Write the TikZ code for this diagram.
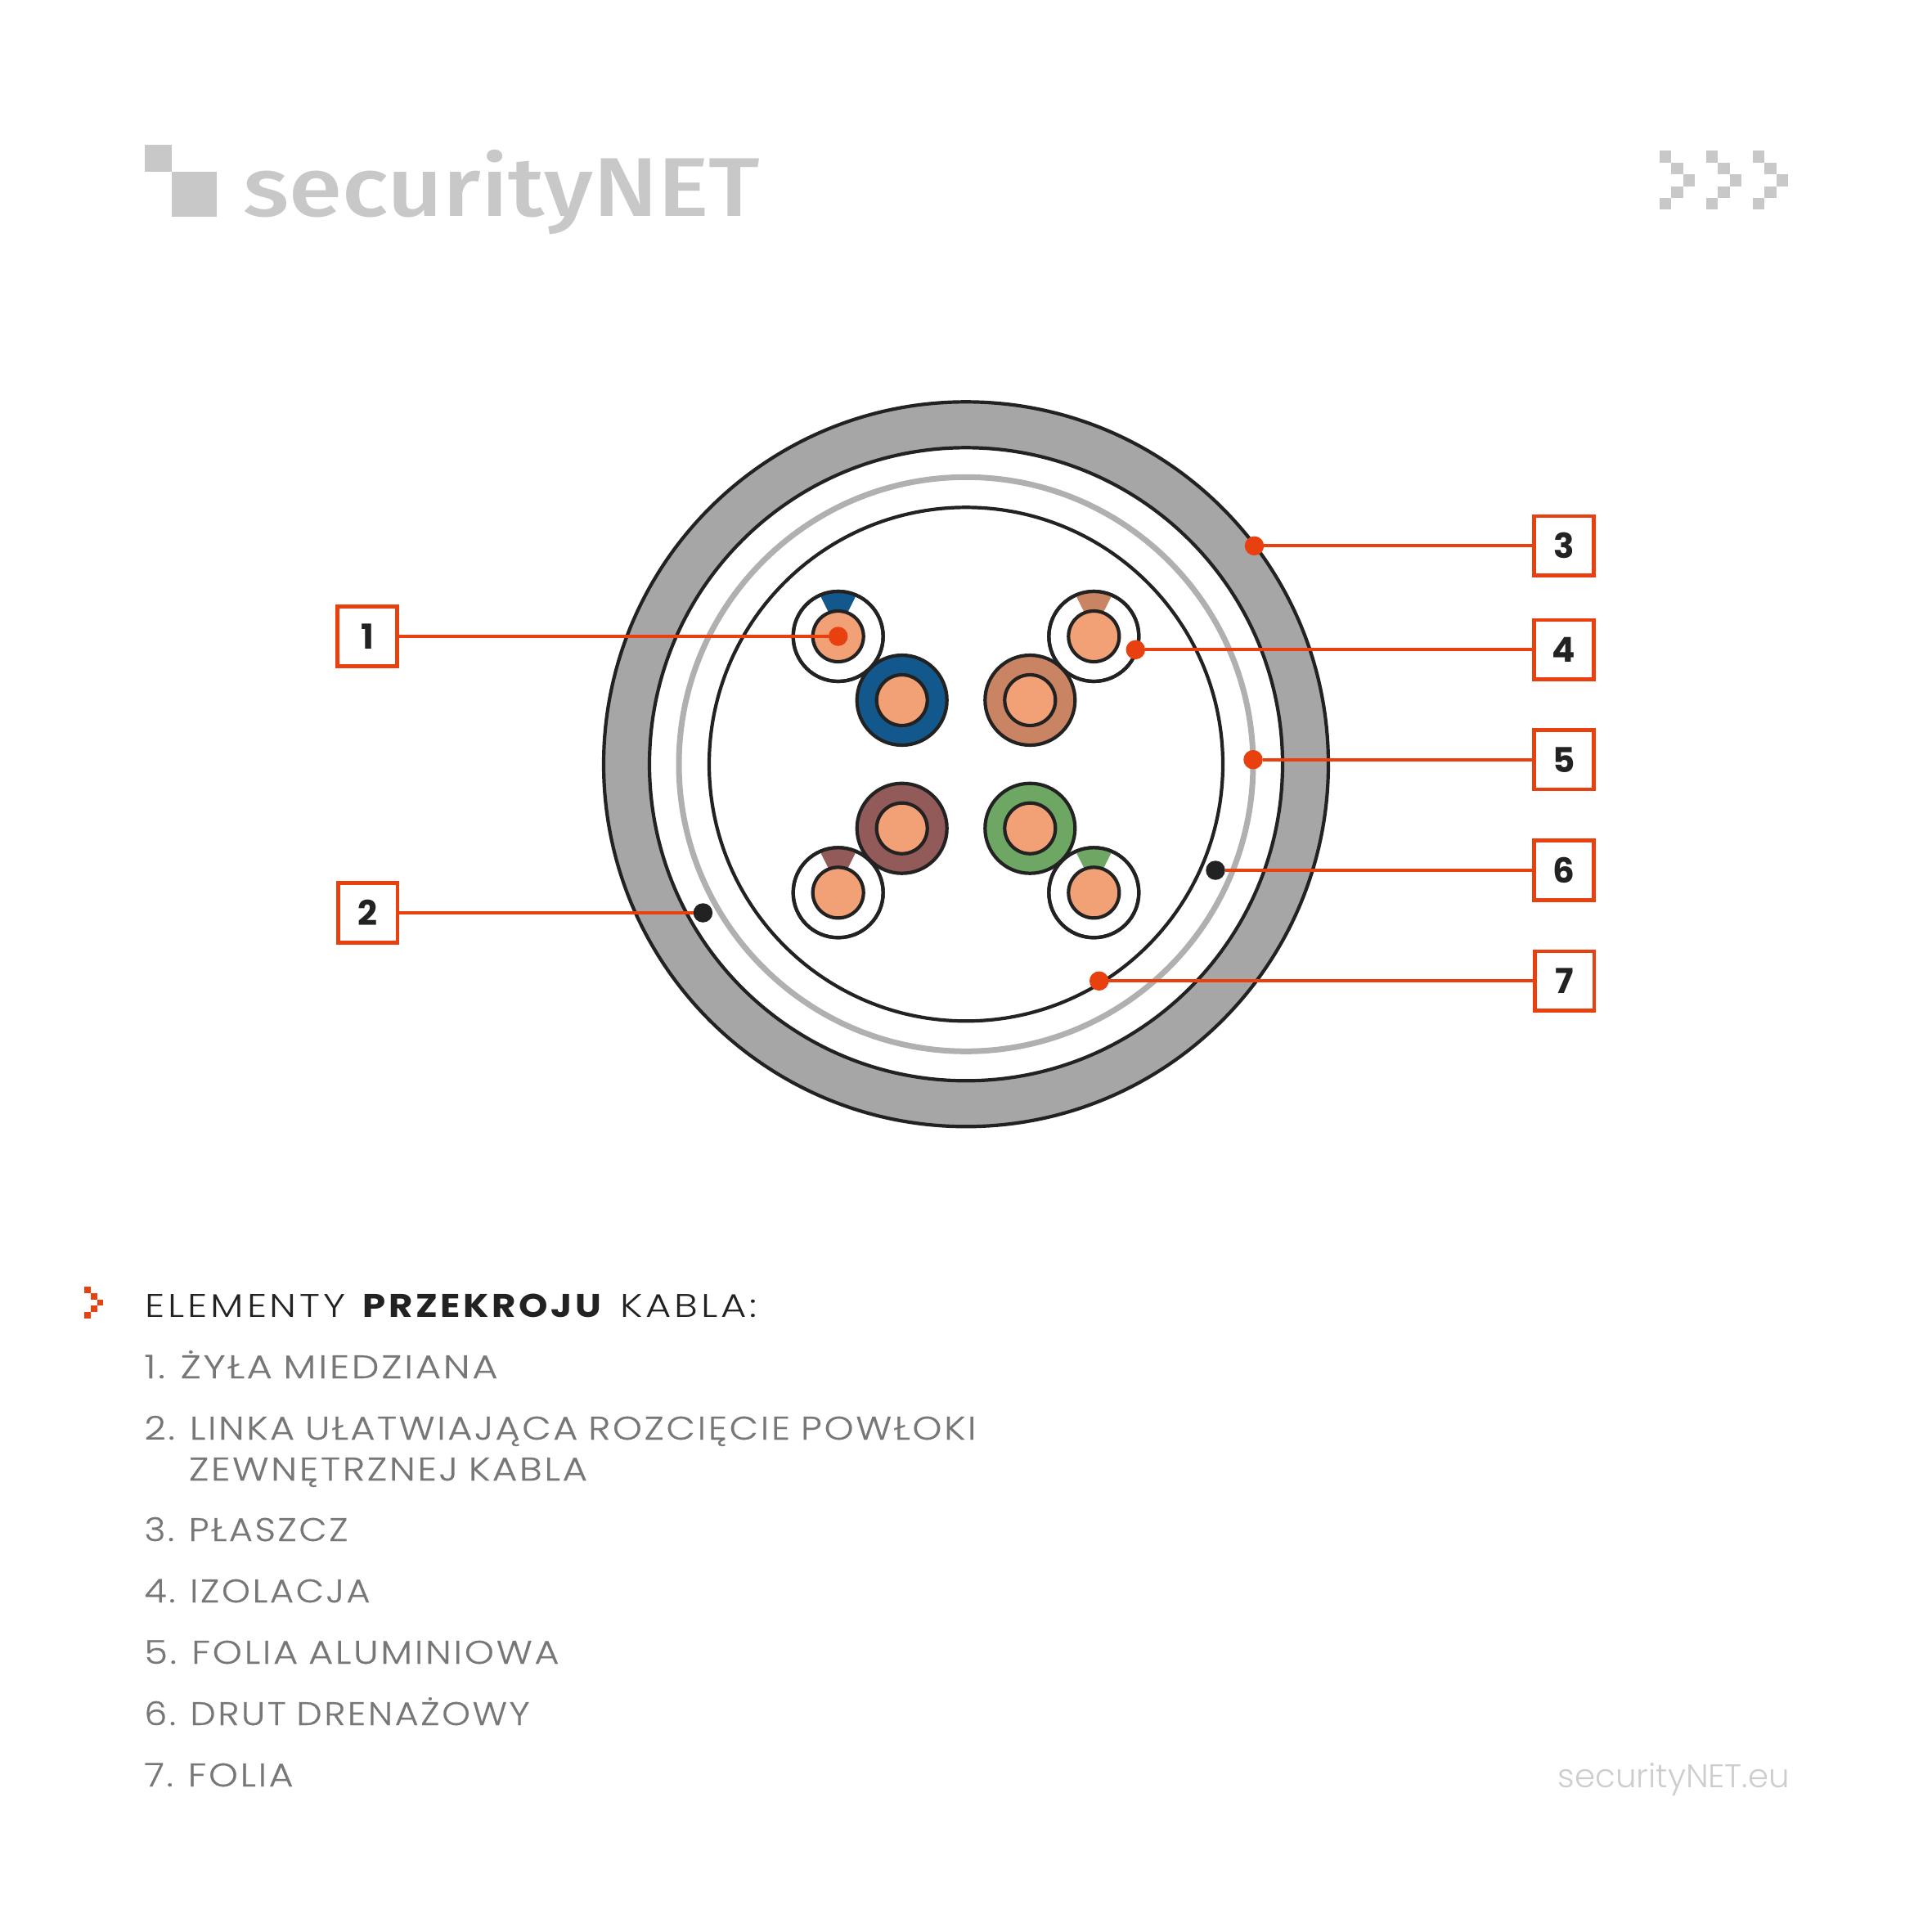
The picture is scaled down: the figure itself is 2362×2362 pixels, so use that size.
\documentclass[tikz,border=0pt]{standalone}
\usepackage{fontspec}
\setmainfont{Poppins}
\newfontfamily\lightf[LetterSpace=6,WordSpace=0.85,RawFeature={embolden=0.4}]{Poppins Light}
\newfontfamily\boldf[LetterSpace=8,WordSpace=0.9]{Poppins Light}[BoldFont={Poppins Bold}]
\newfontfamily\digitf{Poppins Bold}
\newfontfamily\logof{Fira Sans Medium}
\newfontfamily\urlf{Poppins Light}
\definecolor{ink}{HTML}{222222}
\definecolor{accent}{HTML}{E8400F}
\definecolor{jacket}{HTML}{A6A6A6}
\definecolor{foil}{HTML}{B0B0B0}
\definecolor{logogrey}{HTML}{C8C8C8}
\definecolor{txtgrey}{HTML}{777777}
\definecolor{urlgrey}{HTML}{CDCDCD}
\definecolor{copper}{HTML}{F2A176}
\definecolor{wblue}{HTML}{12588C}
\definecolor{wtan}{HTML}{C98463}
\definecolor{wmaroon}{HTML}{925A58}
\definecolor{wgreen}{HTML}{6EA763}
\newcommand{\solidwire}[3]{%
  \draw[ink,line width=2.1pt,fill=#3] (#1,#2) circle[radius=55];
  \draw[ink,line width=2.1pt,fill=copper] (#1,#2) circle[radius=31];
}
\newcommand{\stripewire}[3]{%
  \draw[ink,line width=2.1pt,fill=white] (#1,#2) circle[radius=55];
  \begin{scope}
    \clip (#1,#2) circle[radius=54];
    \fill[#3] (#1,#2) ++(0,-6) -- ++(-30,-60) -- ++(60,0) -- cycle;
  \end{scope}
  \draw[ink,line width=2.1pt] (#1,#2) circle[radius=55];
  \draw[ink,line width=2.1pt,fill=copper] (#1,#2) circle[radius=31];
}
\newcommand{\chev}[3]{%
  \pgfmathsetmacro{\pixsize}{#3}
  \fill (#1,#2) rectangle ++(\pixsize,\pixsize);
  \fill (#1+#3,#2+#3) rectangle ++(\pixsize,\pixsize);
  \fill (#1+2*#3,#2+2*#3) rectangle ++(\pixsize,\pixsize);
  \fill (#1+#3,#2+3*#3) rectangle ++(\pixsize,\pixsize);
  \fill (#1,#2+4*#3) rectangle ++(\pixsize,\pixsize);
}
\newcommand{\dg}[1]{\raisebox{-1.2pt}{#1}}
\tikzset{
  x=0.5pt,y=-0.5pt,
  callbox/.style={draw=accent,line width=2.3pt,fill=white,minimum size=36.3pt,inner sep=0pt,font=\digitf\fontsize{21}{21}\selectfont,text=ink},
  reddot/.style={circle,fill=accent,minimum size=11.75pt,inner sep=0pt,outer sep=0pt},
  blackdot/.style={circle,fill=ink,minimum size=11.75pt,inner sep=0pt,outer sep=0pt},
  leader/.style={accent,line width=2pt},
  listline/.style={anchor=base west,inner sep=0pt,outer sep=0pt,text=txtgrey,font=\lightf\fontsize{20}{20}\selectfont},
}
\begin{document}
\begin{tikzpicture}
\useasboundingbox (0,0) rectangle (2362,2362);
% logo
\fill[logogrey] (177,177) rectangle (210,210);
\fill[logogrey] (210,210) rectangle (265,265);
\node[anchor=base west,inner sep=0pt,text=logogrey] (logo) at (297,264) {\resizebox{316pt}{\height}{\logof\fontsize{51}{51}\selectfont securityNET}};
\begin{scope}[logogrey]
\chev{2028.7}{184.3}{14.4}
\chev{2085.7}{184.3}{14.4}
\chev{2142.7}{184.3}{14.4}
\end{scope}
% cable
\coordinate (c) at (1181,934.3);
\draw[ink,line width=2.1pt,fill=jacket] (c) circle[radius=443];
\draw[ink,line width=2.1pt,fill=white] (c) circle[radius=387];
\draw[foil,line width=3.5pt] (c) circle[radius=351];
\draw[ink,line width=2.1pt] (c) circle[radius=314];
% wires
\solidwire{1102.7}{856}{wblue}
\solidwire{1259.3}{856}{wtan}
\solidwire{1102.7}{1012.7}{wmaroon}
\solidwire{1259.3}{1012.7}{wgreen}
\stripewire{1024.7}{778}{wblue}
\stripewire{1337.3}{778}{wtan}
\stripewire{1024.7}{1091.3}{wmaroon}
\stripewire{1337.3}{1091.3}{wgreen}
% callouts
\node[reddot] (d1) at (1024.7,778) {};
\node[blackdot] (d2) at (859.4,1116) {};
\node[reddot] (d3) at (1533.5,667.3) {};
\node[reddot] (d4) at (1388.3,794.3) {};
\node[reddot] (d5) at (1532,928.7) {};
\node[blackdot] (d6) at (1486,1064) {};
\node[reddot] (d7) at (1343.7,1199.3) {};
\node[callbox] (b1) at (449,778) {\dg{1}};
\node[callbox] (b2) at (449.7,1116) {\dg{2}};
\node[callbox] (b3) at (1912,667.3) {\dg{3}};
\node[callbox] (b4) at (1912,794.3) {\dg{4}};
\node[callbox] (b5) at (1912,928.7) {\dg{5}};
\node[callbox] (b6) at (1912,1064) {\dg{6}};
\node[callbox] (b7) at (1912.7,1199.3) {\dg{7}};
\foreach \i in {1,...,7} \draw[leader] (d\i) -- (b\i);
% heading
\begin{scope}[accent]
\chev{103}{1573}{7.8}
\end{scope}
\node[anchor=base west,inner sep=0pt,text=ink] (head) at (177.5,1610) {\boldf\fontsize{20}{20}\selectfont\resizebox{122.3pt}{\height}{ELEMENTY}\hspace{10.5pt}\resizebox{147.6pt}{\height}{\textbf{PRZEKROJU}}\hspace{9.8pt}\resizebox{83.6pt}{\height}{KABLA:}};
% list
\node[listline] (l1) at (176.5,1685) {\resizebox{216pt}{\height}{1. ŻYŁA MIEDZIANA}};
\node[listline] (l2) at (176.5,1760) {\resizebox{508.5pt}{\height}{2. LINKA UŁATWIAJĄCA ROZCIĘCIE POWŁOKI}};
\node[listline] (l2b) at (231,1810) {\resizebox{243.5pt}{\height}{ZEWNĘTRZNEJ KABLA}};
\node[listline] (l3) at (176.5,1884) {\resizebox{124.5pt}{\height}{3. PŁASZCZ}};
\node[listline] (l4) at (176.5,1959) {\resizebox{138pt}{\height}{4. IZOLACJA}};
\node[listline] (l5) at (176.5,2034) {\resizebox{253.5pt}{\height}{5. FOLIA ALUMINIOWA}};
\node[listline] (l6) at (176.5,2109) {\resizebox{235.5pt}{\height}{6. DRUT DRENAŻOWY}};
\node[listline] (l7) at (176.5,2184) {\resizebox{91pt}{\height}{7. FOLIA}};
\node[anchor=base west,inner sep=0pt,text=urlgrey] (url) at (1904.5,2185) {\resizebox{141.5pt}{\height}{\urlf\fontsize{20}{20}\selectfont securityNET.eu}};
\end{tikzpicture}
\end{document}
